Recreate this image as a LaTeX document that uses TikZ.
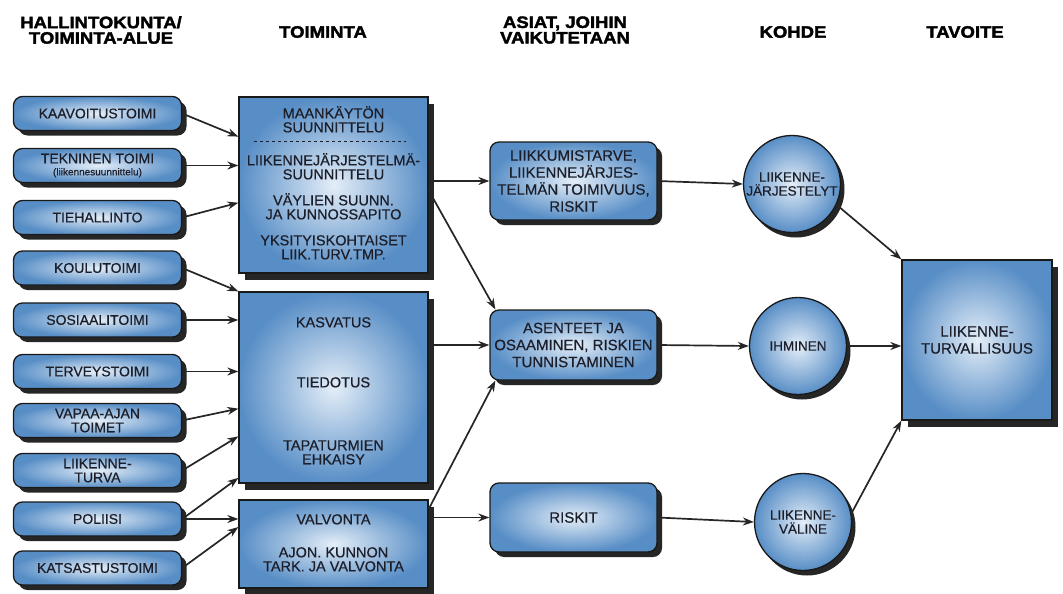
\documentclass[tikz,border=0pt]{standalone}
\usepackage{fontspec}
\setmainfont{Liberation Sans}[FakeBold=0.5]
\newfontfamily\headfont[FakeBold=2.2,FakeStretch=1.12]{Liberation Sans Bold}
\usepackage{xcolor}
\usepackage{tikz}
\usetikzlibrary{arrows.meta, calc, shadows}
\definecolor{boxblue}{RGB}{88,142,198}
\definecolor{boxlight}{RGB}{228,238,248}
\definecolor{inkdark}{RGB}{28,30,42}

\begin{document}
\begin{tikzpicture}[x=1pt,y=-1pt,
  every node/.style={text=inkdark},
  head/.style={font=\headfont\fontsize{16.5}{15.5}\selectfont, align=center, text=black},
  unit/.style={draw=black!90, line width=1.3pt, rounded corners=9pt,
    inner color=boxlight, outer color=boxblue,
    drop shadow={shadow xshift=5pt, shadow yshift=-5pt, fill=black!85, opacity=1},
    minimum width=168pt, minimum height=34pt, align=center,
    font=\fontsize{14}{14}\selectfont},
  task/.style={draw=black!90, line width=1.3pt,
    inner color=boxlight, outer color=boxblue,
    drop shadow={shadow xshift=6pt, shadow yshift=-7pt, fill=black!85, opacity=1},
    minimum width=189pt},
  tasktext/.style={align=center, inner sep=0pt, font=\fontsize{14.5}{14}\selectfont},
  issue/.style={unit, minimum width=167pt, font=\fontsize{15}{17}\selectfont},
  target/.style={circle, draw=black!90, line width=1.3pt,
    inner color=boxlight, outer color=boxblue,
    drop shadow={shadow xshift=4pt, shadow yshift=-5pt, fill=black!85, opacity=1},
    minimum size=97pt, inner sep=0pt, align=center, font=\fontsize{13.5}{14}\selectfont},
  conn/.style={-{Stealth[length=11pt,width=8pt]}, line width=1.7pt, draw=black!85}]
\path[use as bounding box, fill=white] (0,0) rectangle (1063,594);

% otsikot
\node[head] (h1) at (101,30) {HALLINTOKUNTA/\\TOIMINTA-ALUE};
\node[head] (h2) at (323,32) {TOIMINTA};
\node[head] (h3) at (565,30) {ASIAT, JOIHIN\\VAIKUTETAAN};
\node[head] (h4) at (793,32) {KOHDE};
\node[head] (h5) at (965,32) {TAVOITE};

% hallintokunnat
\node[unit] (kaav) at (97.5,113.5) {KAAVOITUSTOIMI};
\node[unit] (tekn) at (97.5,165.5) {TEKNINEN TOIMI\\[-2pt]{\fontsize{10}{10}\selectfont(liikennesuunnittelu)}};
\node[unit] (tieh) at (97.5,217.5) {TIEHALLINTO};
\node[unit] (koul) at (97.5,268) {KOULUTOIMI};
\node[unit] (sosi) at (97.5,320) {SOSIAALITOIMI};
\node[unit] (terv) at (97.5,371.5) {TERVEYSTOIMI};
\node[unit] (vapa) at (97.5,420.5) {VAPAA-AJAN\\TOIMET};
\node[unit] (ltur) at (97.5,470.5) {LIIKENNE-\\TURVA};
\node[unit] (poli) at (97.5,519) {POLIISI};
\node[unit] (kats) at (97.5,568) {KATSASTUSTOIMI};

% toiminta
\node[task, minimum height=176pt] (maank) at (333.5,185) {};
\node[tasktext] (t1) at ([yshift=-23pt]maank.north) {MAANKÄYTÖN\\SUUNNITTELU};
\draw[dashed, line width=1.2pt, draw=inkdark] ([xshift=16pt,yshift=-45pt]maank.north west)
  -- ([xshift=-23pt,yshift=-45pt]maank.north east);
\node[tasktext] (t2) at ([yshift=-70pt]maank.north) {LIIKENNEJÄRJESTELMÄ-\\SUUNNITTELU};
\node[tasktext] (t3) at ([yshift=-110pt]maank.north) {VÄYLIEN SUUNN.\\JA KUNNOSSAPITO};
\node[tasktext] (t4) at ([yshift=-151pt]maank.north) {YKSITYISKOHTAISET\\LIIK.TURV.TMP.};

\node[task, minimum height=191pt] (kasv) at (333.5,387.5) {};
\node[tasktext] (t5) at ([yshift=-31pt]kasv.north) {KASVATUS};
\node[tasktext] (t6) at ([yshift=-91pt]kasv.north) {TIEDOTUS};
\node[tasktext] (t7) at ([yshift=-161pt]kasv.north) {TAPATURMIEN\\EHKAISY};

\node[task, minimum height=88pt] (valv) at (333.5,544) {};
\node[tasktext] (t8) at ([yshift=-20pt]valv.north) {VALVONTA};
\node[tasktext] (t9) at ([yshift=-60pt]valv.north) {AJON. KUNNON\\TARK. JA VALVONTA};

% asiat
\node[issue, minimum height=78pt] (liikk) at (573.5,181) {LIIKKUMISTARVE,\\LIIKENNEJÄRJES-\\TELMÄN TOIMIVUUS,\\RISKIT};
\node[issue, minimum height=70pt] (asen) at (573.5,345) {ASENTEET JA\\OSAAMINEN, RISKIEN\\TUNNISTAMINEN};
\node[issue, minimum height=69pt] (risk) at (573.5,517.5) {RISKIT};

% kohde
\node[target] (jarj) at (792,184) {LIIKENNE-\\JÄRJESTELYT};
\node[target] (ihm) at (798,346) {IHMINEN};
\node[target] (vali) at (803,522) {LIIKENNE-\\VÄLINE};

% tavoite
\node[task, minimum width=150pt, minimum height=160pt, align=center,
  font=\fontsize{15}{17}\selectfont] (tav) at (977,340) {LIIKENNE-\\TURVALLISUUS};

% nuolet
\draw[conn] (kaav.east) -- ($(maank.north west)!0.227!(maank.south west)$);
\draw[conn] (tekn.east) -- (tekn.east -| maank.west);
\draw[conn] (tieh.east) -- ($(maank.north west)!0.6!(maank.south west)$);
\draw[conn] (koul.east) -- (kasv.north west);
\draw[conn] (sosi.east) -- (sosi.east -| kasv.west);
\draw[conn] (terv.east) -- (terv.east -| kasv.west);
\draw[conn] (vapa.east) -- ($(kasv.north west)!0.61!(kasv.south west)$);
\draw[conn] (ltur.east) -- ($(kasv.north west)!0.754!(kasv.south west)$);
\draw[conn] (poli.east) -- ($(kasv.north west)!0.97!(kasv.south west)$);
\draw[conn] (poli.east) -- (poli.east -| valv.west);
\draw[conn] (kats.east) -- ($(valv.north west)!0.31!(valv.south west)$);

\draw[conn] (maank.east |- liikk.west) -- (liikk.west);
\draw[conn] ($(maank.north east)!0.53!(maank.south east)$) -- ([xshift=6pt]asen.north west);
\draw[conn] (kasv.east |- asen.west) -- (asen.west);
\draw[conn] ($(valv.north east)!0.11!(valv.south east)$) -- ([xshift=6pt]asen.south west);
\draw[conn] (valv.east |- risk.west) -- (risk.west);

\draw[conn] (liikk.east) -- (jarj.west);
\draw[conn] (asen.east) -- (ihm.west);
\draw[conn] (risk.east) -- (vali.west);

\draw[conn] (jarj.-25) -- (tav.north west);
\draw[conn] (ihm.east) -- (ihm.east -| tav.west);
\draw[conn] (vali.10) -- (tav.south west);
\end{tikzpicture}
\end{document}
